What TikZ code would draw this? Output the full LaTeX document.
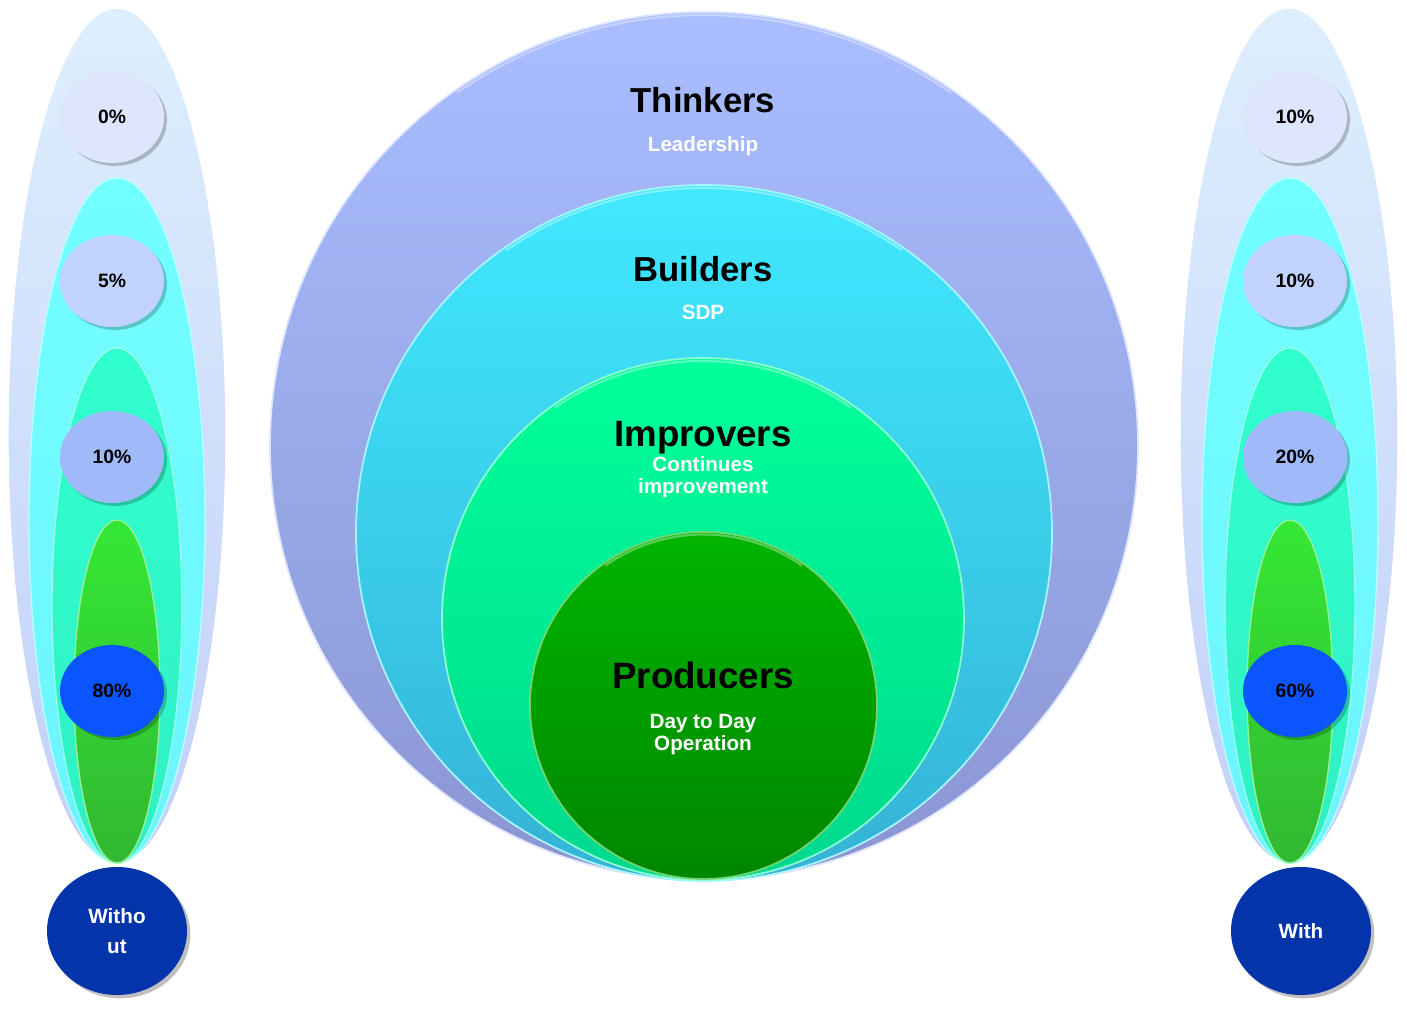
\documentclass[tikz,border=0pt]{standalone}
\usepackage{fontspec}
\setmainfont{Liberation Sans}
\usetikzlibrary{shapes.geometric,shadows}
\definecolor{thA}{HTML}{A9BDFF}
\definecolor{thB}{HTML}{8A96D2}
\definecolor{buA}{HTML}{40E9FF}
\definecolor{buB}{HTML}{34B2D6}
\definecolor{imA}{HTML}{00FF99}
\definecolor{imB}{HTML}{00D98E}
\definecolor{prA}{HTML}{00B500}
\definecolor{prB}{HTML}{008600}
\definecolor{coA}{HTML}{DDEFFD}
\definecolor{coB}{HTML}{C2CFF9}
\definecolor{cyA}{HTML}{72FFFF}
\definecolor{cyB}{HTML}{6CF4FF}
\definecolor{tqA}{HTML}{32FFCF}
\definecolor{tqB}{HTML}{2EEFC4}
\definecolor{grA}{HTML}{34E834}
\definecolor{grB}{HTML}{32B832}
\definecolor{pc1}{HTML}{DDE6FC}
\definecolor{pc2}{HTML}{C1D3FC}
\definecolor{pc3}{HTML}{A0B9F8}
\definecolor{pc4}{HTML}{0B55FF}
\definecolor{navy}{HTML}{0334A9}
\begin{document}
\begin{tikzpicture}[x=0.75pt,y=-0.75pt,
  ring/.style={circle, inner sep=0pt, line width=1.3pt},
  lobe/.style={ellipse, inner sep=0pt, line width=1pt},
  gloss/.style={white, opacity=0.35, line width=1.6pt},
  title/.style={anchor=base, text=black, font=\bfseries\fontsize{26}{30}\selectfont},
  bigtitle/.style={anchor=base, text=black, font=\bfseries\fontsize{27.5}{32}\selectfont},
  sub/.style={anchor=base, text=white, font=\bfseries\fontsize{15.5}{18}\selectfont},
  pct/.style={ellipse, inner sep=0pt, minimum width=104*0.75pt, minimum height=92*0.75pt,
    text=black, font=\bfseries\fontsize{14.5}{17}\selectfont,
    drop shadow={shadow xshift=2.2pt, shadow yshift=-2.2pt, opacity=0.22, fill=black}},
  base/.style={ellipse, inner sep=0pt, minimum width=140*0.75pt, minimum height=128*0.75pt,
    fill=navy, text=white, align=center, font=\bfseries\fontsize{15.5}{22}\selectfont,
    drop shadow={shadow xshift=2.5pt, shadow yshift=-2.5pt, opacity=0.25, fill=black}}
]
\useasboundingbox (0,0) rectangle (1407,1009);
\fill[white] (0,0) rectangle (1407,1009);

% ---------- centre rings ----------
\node[ring, minimum size=868*0.75pt, top color=thA, bottom color=thB, draw=white!60!thA] (thinkers) at (704,446) {};
\node[ring, minimum size=696*0.75pt, top color=buA, bottom color=buB, draw=white!55!buA] (builders) at (704,533) {};
\node[ring, minimum size=522*0.75pt, top color=imA, bottom color=imB, draw=white!55!imA] (improvers) at (703,619) {};
\node[ring, minimum size=347*0.75pt, top color=prA, bottom color=prB, draw=white!45!prA] (producers) at (703.5,705.5) {};
\draw[gloss] (thinkers.center) ++(235:431) arc (235:305:431);
\draw[gloss] (builders.center) ++(235:345) arc (235:305:345);
\draw[gloss] (improvers.center) ++(235:258) arc (235:305:258);
\draw[gloss] (producers.center) ++(235:171) arc (235:305:171);

\node[title] (tThink) at (703,113) {Thinkers};
\node[sub] (sThink) at (703,152) {Leadership};
\node[title] (tBuild) at (703,282) {Builders};
\node[sub] (sBuild) at (703,320) {SDP};
\node[bigtitle] (tImp) at (703,446) {Improvers};
\node[sub] (sImp1) at (703,471) {Continues};
\node[sub] (sImp2) at (703,493) {improvement};
\node[bigtitle] (tProd) at (703,688) {Producers};
\node[sub] (sProd1) at (703,728) {Day to Day};
\node[sub] (sProd2) at (703,750) {Operation};

% ---------- left column ----------
\node[lobe, minimum width=218*0.75pt, minimum height=855*0.75pt, top color=coA, bottom color=coB, draw=white] (L1) at (117,435.5) {};
\node[lobe, minimum width=176*0.75pt, minimum height=685*0.75pt, top color=cyA, bottom color=cyB, draw=white!50!cyA] (L2) at (117,520.5) {};
\node[lobe, minimum width=130*0.75pt, minimum height=515*0.75pt, top color=tqA, bottom color=tqB, draw=white!50!tqA] (L3) at (117,605.5) {};
\node[lobe, minimum width=86*0.75pt, minimum height=343*0.75pt, top color=grA, bottom color=grB, draw=white!50!grA] (L4) at (117,691.5) {};

\node[pct, fill=pc1] (L0p) at (112,117) {0\%};
\node[pct, fill=pc2] (L5p) at (112,281) {5\%};
\node[pct, fill=pc3] (L10p) at (112,457) {10\%};
\node[pct, fill=pc4] (L80p) at (112,691) {80\%};
\node[base] (without) at (117,931) {Witho\\ut};

% ---------- right column ----------
\node[lobe, minimum width=218*0.75pt, minimum height=855*0.75pt, top color=coA, bottom color=coB, draw=white] (R1) at (1289,435.5) {};
\node[lobe, minimum width=176*0.75pt, minimum height=685*0.75pt, top color=cyA, bottom color=cyB, draw=white!50!cyA] (R2) at (1290,520.5) {};
\node[lobe, minimum width=130*0.75pt, minimum height=515*0.75pt, top color=tqA, bottom color=tqB, draw=white!50!tqA] (R3) at (1290,605.5) {};
\node[lobe, minimum width=86*0.75pt, minimum height=343*0.75pt, top color=grA, bottom color=grB, draw=white!50!grA] (R4) at (1290,691.5) {};

\node[pct, fill=pc1] (R10a) at (1295,117) {10\%};
\node[pct, fill=pc2] (R10b) at (1295,281) {10\%};
\node[pct, fill=pc3] (R20) at (1295,457) {20\%};
\node[pct, fill=pc4] (R60) at (1295,691) {60\%};
\node[base] (with) at (1301,931) {With};
\end{tikzpicture}
\end{document}
